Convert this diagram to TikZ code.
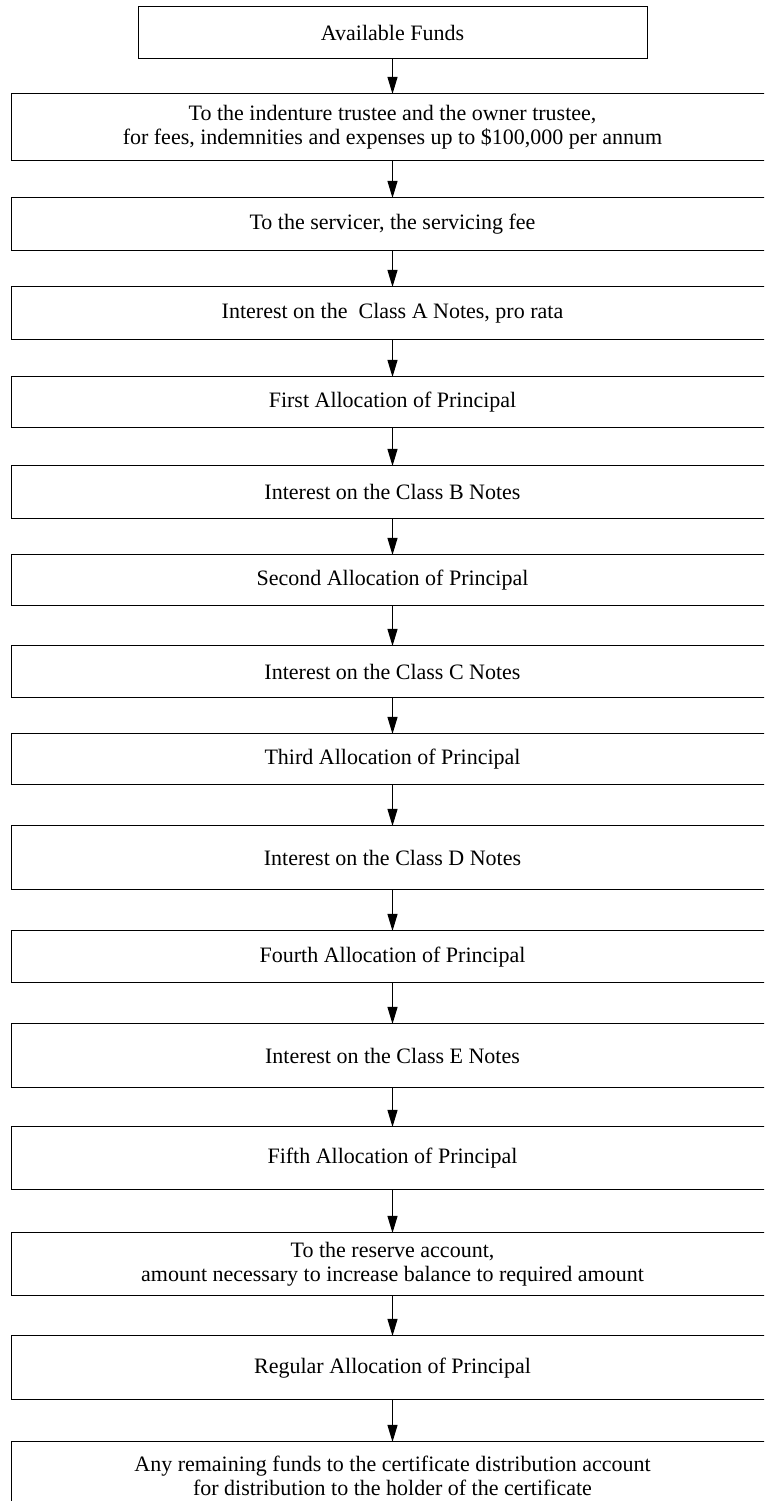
\documentclass[tikz,border=0pt]{standalone}
\usepackage{fontspec}
\setmainfont{Liberation Serif}
\usetikzlibrary{positioning,arrows.meta}

\tikzset{
  box/.style={draw, line width=0.75pt, inner sep=0pt, outer sep=0pt, align=center,
    minimum width=571.5pt, minimum height=39pt,
    font=\fontsize{16.5}{18}\selectfont},
  topbox/.style={box, minimum width=381.75pt},
  flow/.style={line width=0.75pt, -{Triangle[length=12.75pt,width=7.5pt]}}
}

\begin{document}
\begin{tikzpicture}
\clip (0pt,0pt) rectangle (573pt,-1125.75pt);
\node [topbox] (funds) at (294.375pt,-24.375pt) {Available Funds};
\node [box, minimum height=50.25pt, below=26.6pt of funds] (trustee)
  {To the indenture trustee and the owner trustee,\\
   for fees, indemnities and expenses up to \$100,000 per annum};
\node [box, minimum height=39.75pt, below=27.75pt of trustee] (servicer) {To the servicer, the servicing fee};
\node [box, minimum height=39.75pt, below=27pt of servicer] (intA) {Interest on the~ Class A Notes, pro rata};
\node [box, minimum height=38.25pt, below=27.75pt of intA] (alloc1) {First Allocation of Principal};
\node [box, minimum height=39.75pt, below=28.5pt of alloc1] (intB) {Interest on the Class B Notes};
\node [box, minimum height=38.25pt, below=27pt of intB] (alloc2) {Second Allocation of Principal};
\node [box, below=30pt of alloc2] (intC) {Interest on the Class C Notes};
\node [box, minimum height=38.25pt, below=27pt of intC] (alloc3) {Third Allocation of Principal};
\node [box, minimum height=48pt, below=30.75pt of alloc3] (intD) {Interest on the Class D Notes};
\node [box, below=30.75pt of intD] (alloc4) {Fourth Allocation of Principal};
\node [box, minimum height=48pt, below=30.75pt of alloc4] (intE) {Interest on the Class E Notes};
\node [box, minimum height=47.25pt, below=29.25pt of intE] (alloc5) {Fifth Allocation of Principal};
\node [box, minimum height=47.25pt, below=32.25pt of alloc5] (reserve)
  {To the reserve account,\\
   amount necessary to increase balance to required amount};
\node [box, minimum height=48pt, below=30pt of reserve] (regular) {Regular Allocation of Principal};
\node [box, minimum height=51pt, below=31.5pt of regular] (remain)
  {Any remaining funds to the certificate distribution account\\
   for distribution to the holder of the certificate};
\foreach \a/\b in {funds/trustee, trustee/servicer, servicer/intA, intA/alloc1,
  alloc1/intB, intB/alloc2, alloc2/intC, intC/alloc3, alloc3/intD, intD/alloc4,
  alloc4/intE, intE/alloc5, alloc5/reserve, reserve/regular, regular/remain}
  \draw [flow] (\a) -- (\b);
\end{tikzpicture}
\end{document}
